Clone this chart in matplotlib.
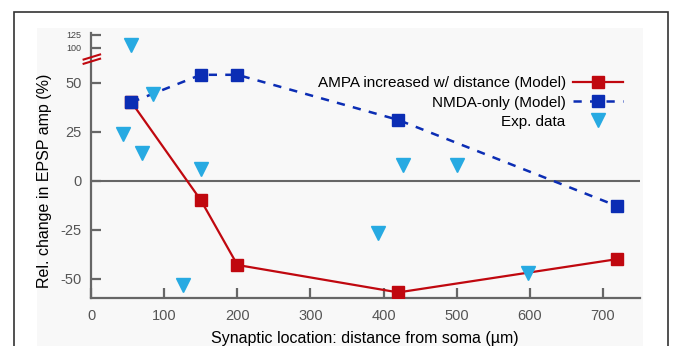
import numpy as np
import matplotlib
matplotlib.use("Agg")
import matplotlib.pyplot as plt
from matplotlib.patches import Rectangle

plt.rcParams['font.family'] = ['Liberation Sans', 'DejaVu Sans']
plt.rcParams['axes.unicode_minus'] = False

# data
model_x = [55, 150, 200, 420, 720]
ampa_y = [40, -10, -43, -57, -40]
nmda_y = [40, 54, 54, 31, -13]

exp_x = [55, 43, 85, 70, 150, 125, 393, 426, 500, 598]
exp_y = [106, 24, 44, 14, 6, -53, -26.5, 8, 8, -47]

yticks = [-50, -25, 0, 25, 50, 100, 125]
ytick_labels = ['-50', '-25', '0', '25', '50', '100', '125']
xticks = [0, 100, 200, 300, 400, 500, 600, 700]

red = '#c0080f'
blue = '#0b2db4'
cyan = '#27aae2'
grey = '#666666'

# broken y axis: compress everything above the break
_raw = np.array([-1000, 62, 100, 1000])
_mapped = np.array([-1000, 62, 67.7, 67.7 + 900 * 0.272])

def fwd(v):
    return np.interp(v, _raw, _mapped)

def inv(v):
    return np.interp(v, _mapped, _raw)

W, H = 673, 346
fig = plt.figure(figsize=(W / 100, H / 100), dpi=100)
fig.patch.set_facecolor('white')

# panel background and outer frame
fig.patches.append(Rectangle((37 / W, -0.1), (643 - 37) / W, 1.1 - 28 / H,
                             transform=fig.transFigure, facecolor='#f8f8f8',
                             edgecolor='none', zorder=-5))
fig.patches.append(Rectangle((14 / W, -0.1), (668 - 14) / W, 1.1 - 12 / H,
                             transform=fig.transFigure, facecolor='none',
                             edgecolor='#333333', linewidth=1.2, zorder=5))

ax = fig.add_axes([91.3 / W, 1 - 298.3 / H, (640 - 91.3) / W, (298.3 - 33) / H])
ax.set_facecolor('none')
ax.set_yscale('function', functions=(fwd, inv))
ax.set_xlim(0, 751)
ax.set_ylim(-60, 128)

ax.axhline(0, color=grey, lw=1.5, zorder=1)

ax.plot(model_x, ampa_y, color=red, lw=1.6, marker='s', ms=8,
        label='AMPA increased w/ distance (Model)', zorder=3)
ax.plot(model_x, nmda_y, color=blue, lw=1.8, marker='s', ms=8,
        dashes=(3.3, 3.3), label='NMDA-only (Model)', zorder=4)
ax.plot(exp_x, exp_y, ls='none', color=cyan, marker='v', ms=9.5,
        label='Exp. data', zorder=5)

for s in ['top', 'right']:
    ax.spines[s].set_visible(False)
for s in ['left', 'bottom']:
    ax.spines[s].set_color(grey)
    ax.spines[s].set_linewidth(1.6)

ax.set_xticks(xticks)
ax.set_yticks(yticks)
ax.set_yticklabels(ytick_labels)
ax.tick_params(direction='in', length=7, width=1.6, color=grey,
               labelcolor='#555555', labelsize=10.5)
ax.tick_params(axis='y', pad=7)
ax.tick_params(axis='x', pad=8)
for lab in ax.get_yticklabels():
    if lab.get_text() in ('100', '125'):
        lab.set_fontsize(6.5)
        lab.set_color('#444444')

# break marks on the y axis
for dy in (0.0, 0.016):
    ax.plot([-0.014, 0.016], [0.884 + dy, 0.903 + dy], transform=ax.transAxes,
            color=red, lw=1.5, clip_on=False, zorder=6)

fig.text(45 / W, 1 - 181 / H, 'Rel. change in EPSP amp (%)', rotation=90,
         ha='center', va='center', fontsize=11.5)
fig.text(365 / W, 1 - 338 / H, 'Synaptic location: distance from soma (\u00b5m)',
         ha='center', va='center', fontsize=11.5)

ax.legend(loc='upper right', bbox_to_anchor=(623 / W, 1 - 76.5 / H),
          bbox_transform=fig.transFigure, frameon=False, markerfirst=False,
          numpoints=1, fontsize=11, handlelength=3.3, handletextpad=0.45,
          labelspacing=0.33, borderpad=0, borderaxespad=0)

fig.savefig('out.png', dpi=100)
